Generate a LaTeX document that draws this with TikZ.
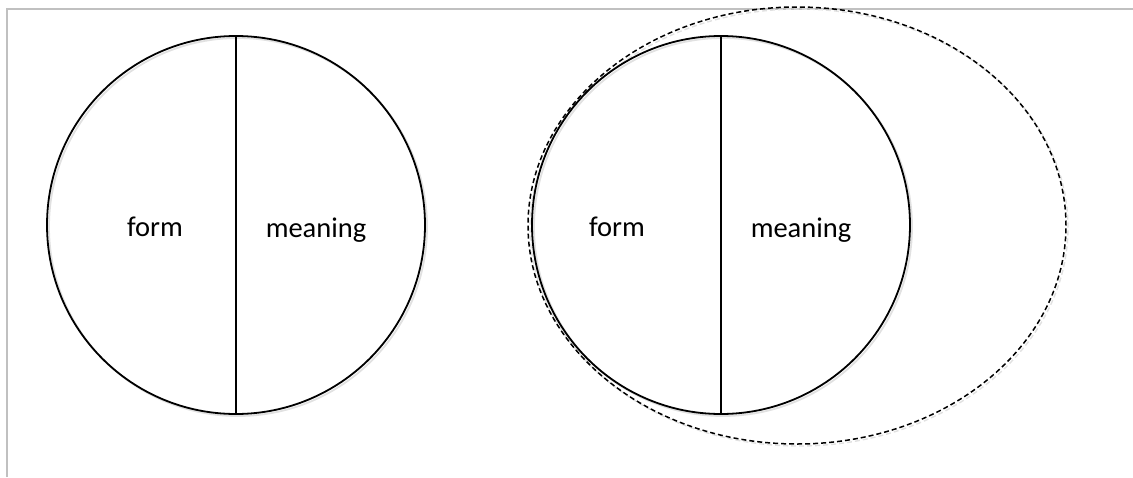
\documentclass[tikz,border=0pt]{standalone}
\usepackage{fontspec}
\setmainfont{Carlito}
\begin{document}
\begin{tikzpicture}[x=1pt,y=1pt,
  frameline/.style={draw={rgb,255:red,192;green,192;blue,192},line width=2pt},
  circ/.style={draw=black,line width=1.8pt},
  shadowc/.style={draw={rgb,255:red,225;green,225;blue,225},line width=1.8pt},
  divider/.style={draw=black,line width=1.5pt},
  dashell/.style={draw=black,line width=1.5pt,dash pattern=on 5pt off 3pt},
  shadowd/.style={draw={rgb,255:red,225;green,225;blue,225},line width=1.4pt,dash pattern=on 5pt off 3pt},
  lbl/.style={font=\fontsize{28.5}{34}\selectfont,inner sep=0pt}]
\useasboundingbox (0,0) rectangle (1133,-477);
% frame
\coordinate (fa) at (7,-477);
\coordinate (fb) at (7,-9);
\coordinate (fc) at (1133,-9);
\draw[frameline] (fa) -- (fb) -- (fc);
% left sign
\coordinate (L) at (236,-225);
\draw[shadowc] ([shift={(2,-2)}]L) circle (189);
\draw[circ] (L) circle (189);
\coordinate (Lt) at (236,-36);
\coordinate (Lb) at (236,-414);
\draw[divider] (Lt) -- (Lb);
\node[lbl] (lf) at (155,-227) {form};
\node[lbl] (lm) at (316,-230) {meaning};
% right sign with dashed ellipse
\coordinate (E) at (797,-225.5);
\draw[shadowd] ([shift={(2,-2)}]E) ellipse (269 and 218.5);
\draw[dashell] (E) ellipse (269 and 218.5);
\coordinate (R) at (721,-225);
\draw[shadowc] ([shift={(2,-2)}]R) circle (189);
\draw[circ] (R) circle (189);
\coordinate (Rt) at (721,-36);
\coordinate (Rb) at (721,-414);
\draw[divider] (Rt) -- (Rb);
\node[lbl] (rf) at (617,-227) {form};
\node[lbl] (rm) at (801,-230) {meaning};
\end{tikzpicture}
\end{document}
